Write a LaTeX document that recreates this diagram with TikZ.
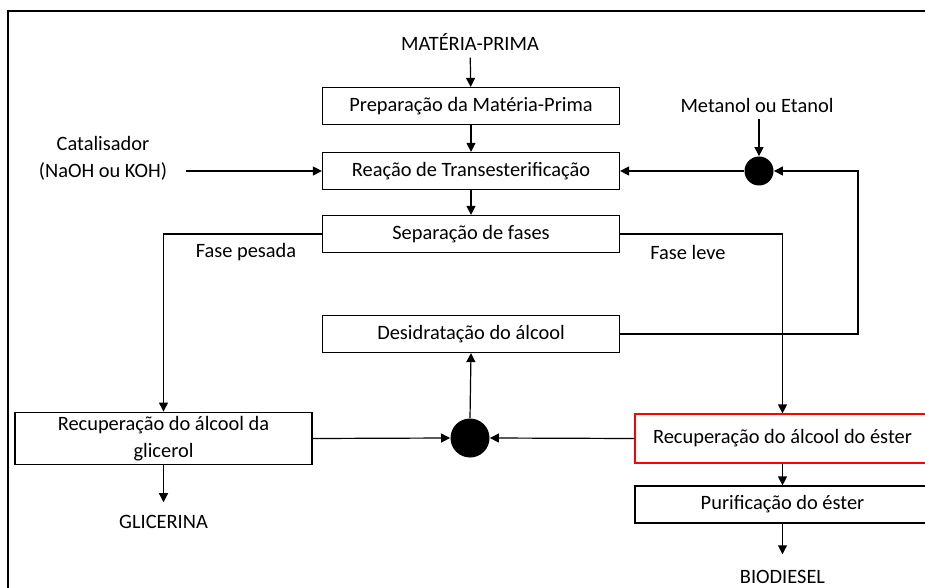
\documentclass[tikz,border=0pt]{standalone}
\usepackage{fontspec}
\setmainfont{Carlito}
\usetikzlibrary{arrows.meta}
\usetikzlibrary{positioning}
\usetikzlibrary{shapes}

\tikzset{
  stage/.style={draw, line width=0.6pt, minimum width=148.5pt, minimum height=18.5pt, inner sep=2pt, align=center},
  junction/.style={circle, fill=black, inner sep=0pt},
  flow/.style={-{Triangle[length=4.5pt,width=4.5pt]}, line width=0.6pt}
}

\begin{document}
\begin{tikzpicture}[x=0.5pt, y=-0.5pt, font=\fontsize{10.2}{13.5}\selectfont]
  \useasboundingbox (0,0) rectangle (925,588);
  %% frame
  \draw[line width=1pt] (8,588) -- (8,11) -- (925,11);

  %% main line
  \node (mp) at (470,42) {MATÉRIA-PRIMA};
  \node[stage] (prep) at (471,106) {Preparação da Matéria-Prima};
  \node[stage] (reac) at (471,171) {Reação de Transesterificação};
  \node[stage] (sep) at (471,234) {Separação de fases};
  \node[stage] (des) at (471,334) {Desidratação do álcool};

  % inputs
  \node[align=center] (cat) at (103,158) {Catalisador\\(NaOH ou KOH)};
  \node (met) at (757,105) {Metanol ou Etanol};
  \node[junction, minimum size=14.5pt] (mix1) at (759,171) {};
  \coordinate (ret) at (858,171);

  % phases
  \node (pesada) at (246,252) {Fase pesada};
  \node (leve) at (688,252) {Fase leve};

  %% recovery
  \node[stage, minimum height=24.5pt] (glic) at (163.5,438.5) {Recuperação do álcool da\\glicerol};
  \node[junction, minimum size=19.5pt] (mix2) at (470,438) {};
  \node[stage, draw=red, minimum width=147.5pt, minimum height=24.5pt] (rest) at (782.5,438.5) {Recuperação do álcool do éster};
  \node[stage, minimum width=147.5pt] (pur) at (782.5,504.5) {Purificação do éster};

  % products
  \node (gli) at (163.5,522) {GLICERINA};
  \node (bio) at (782.5,577) {BIODIESEL};

  %% connectors
  \draw[flow] (mp) -- (prep);
  \draw[flow] (prep) -- (reac);
  \draw[flow] (reac) -- (sep);
  \draw[flow] ([xshift=6pt]cat.east |- reac) -- (reac.west);
  \draw[flow] (met.south -| mix1) -- (mix1.north);
  \draw[flow] (mix1.west) -- (reac.east);
  \draw[flow] (des.east) -| (ret) -- (mix1.east);
  \draw[flow] (sep.west) -| (glic.north);
  \draw[flow] (sep.east) -| (rest.north);
  \draw[flow] (glic.east) -- (mix2.west);
  \draw[flow] (rest.west) -- (mix2.east);
  \draw[flow] (mix2.north) -- (des.south);
  \draw[flow] (rest.south) -- (pur.north);
  \draw[flow, shorten >=3pt] (glic.south) -- (gli.north);
  \draw[flow, shorten >=4.5pt] (pur.south) -- (bio.north);
\end{tikzpicture}
\end{document}
